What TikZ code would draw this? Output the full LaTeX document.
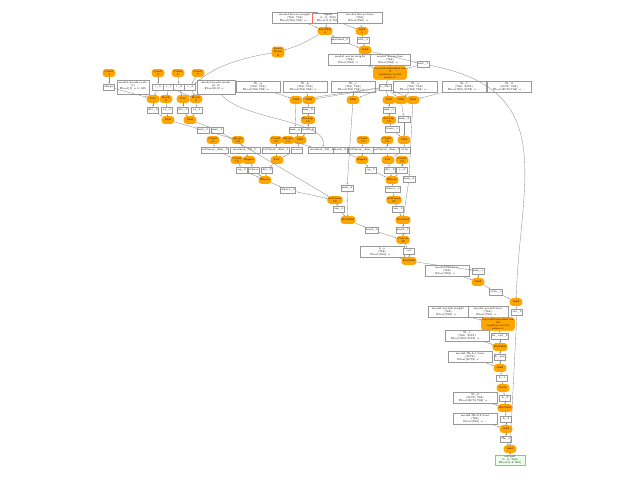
\documentclass[tikz,border=0pt]{standalone}
\usetikzlibrary{arrows.meta}
\definecolor{opc}{RGB}{255,165,0}
\begin{document}
\begin{tikzpicture}[x=0.75pt,y=-0.75pt,
 every node/.style={font=\fontsize{2}{2.4}\selectfont,inner sep=0.6pt,align=center},
 opn/.style={fill=opc,draw=opc,rounded corners=2pt,minimum width=12pt*0.75,minimum height=7pt*0.75},
 bx/.style={draw=black!40,fill=white,minimum width=11pt*0.75,minimum height=6pt*0.75},
 wb/.style={bx,minimum width=44pt*0.75,minimum height=9pt*0.75},
 ed/.style={draw=black!45,line width=0.25pt,-{Stealth[length=1.2pt,width=1pt]}}]
\useasboundingbox (0,0) rectangle (640,480);
% top
\node[bx,minimum width=45pt*0.75] (t1) at (295,18) {model.linear.weight\\(768, 768)\\Float[768,768] = ..};
\node[bx,draw=red!60,minimum width=32pt*0.75] (t2) at (328,18) {input\\(1, 8, 768)\\Float[1,8,768]};
\node[bx,minimum width=45pt*0.75] (t3) at (360,18) {model.linear.bias\\(768)\\Float[768] = ..};
\node[opn] (o1) at (325,31) {MatMul\\0};
\node[opn] (o2) at (362,31) {Add\\1};
\node[bx] (b1) at (340,40) {matmul\_0};
\node[bx] (b2) at (363,40) {add\_0};
\node[opn] (o3) at (365,50) {Add};
\node[opn,minimum height=10pt*0.75] (o4) at (278,52) {Layer\\Norm\\2};
\node[wb] (b3) at (350,60) {model.norm.weight\\(768)\\Float[768] = .. };
\node[wb,minimum width=40pt*0.75] (b4) at (390,60) {model.norm.bias\\(768)\\Float[768] = ..};
\node[bx] (b5) at (423,64) {add\_1};
\node[opn,minimum width=28pt*0.75,minimum height=13pt*0.75] (o5) at (390,73) {LayerNormalization\\3\\epsilon=1e-05\\axis=-1};
\node[bx] (xf) at (385,87) {x\_flat};
% wide row
\node[wb] (w1) at (258,87) {W\_q\\(768, 768)\\Float[768,768] = ..};
\node[wb] (w2) at (305,87) {W\_k\\(768, 768)\\Float[768,768] = ..};
\node[wb] (w3) at (353,87) {W\_v\\(768, 768)\\Float[768,768] = ..};
\node[wb] (w4) at (415,87) {W\_o\\(768, 768)\\Float[768,768] = ..};
\node[wb] (w5) at (464,87) {W\_1\\(768, 3072)\\Float[768,3072] = ..};
\node[wb] (w6) at (509,87) {W\_2\\(3072, 768)\\Float[3072,768] = ..};
% left cluster
\node[opn] (l1) at (109,73) {Const\\4};
\node[opn] (l2) at (158,73) {Const\\5};
\node[opn] (l3) at (178,73) {Const\\6};
\node[opn] (l4) at (198,73) {Const\\7};
\node[bx] (lb1) at (109,87) {shape};
\node[bx,minimum width=32pt*0.75,minimum height=14pt*0.75] (lb2) at (133,87) {model.heads.scale\\(1)\\Float[1] = 0.125\\..};
\node[bx] (lb3) at (158,87) {c\_0};
\node[bx] (lb4) at (169,87) {c\_1};
\node[bx] (lb5) at (179,87) {c\_2};
\node[bx] (lb6) at (190,87) {c\_3};
\node[bx,minimum width=38pt*0.75,minimum height=14pt*0.75] (lb7) at (216,87) {model.heads.mask\\(8, 8)\\Float[8,8] = ..\\..};
\node[opn] (m1) at (153,99) {Div};
\node[opn] (m2) at (166,99) {Resh\\8};
\node[opn] (m3) at (183,99) {Div};
\node[opn] (m4) at (196,99) {Resh\\9};
\node[bx] (mb1) at (153,110) {div\_0};
\node[bx] (mb2) at (167,110) {rs\_0};
\node[bx] (mb3) at (183,110) {div\_1};
\node[bx] (mb4) at (197,110) {rs\_1};
\node[opn] (n1) at (168,120) {Mul};
\node[opn] (n2) at (190,120) {Mul};
\node[bx] (nb1) at (203,130) {mul\_0};
\node[bx] (nb2) at (217,130) {mul\_1};
% q k v branches
\node[opn] (q1) at (296,100) {MM};
\node[opn] (q2) at (309,100) {MM};
\node[bx] (qb2) at (308,110) {mm\_k};
\node[opn] (q3) at (308,120) {Transp.\\10};
\node[bx] (qb1) at (295,130) {mm\_q};
\node[bx] (qb3) at (308,130) {trans\_k};
\node[opn] (r1) at (213,140) {Const\\11};
\node[opn] (r2) at (238,140) {Shape\\12};
\node[opn] (r3) at (276,140) {Const\\13};
\node[opn] (r4) at (288,140) {Shape\\14};
\node[opn] (r5) at (300,140) {MM};
\node[bx,minimum width=24pt*0.75] (rb1) at (215,150) {softmax\_dim\_0};
\node[bx,minimum width=30pt*0.75] (rb2) at (245,150) {masked\_fill\_0};
\node[bx,minimum width=24pt*0.75] (rb3) at (276,150) {softmax\_dim\_1};
\node[bx] (rb4) at (297,150) {scores};
\node[bx,minimum width=28pt*0.75] (rb5) at (322,150) {masked\_fill\_1};
\node[opn] (s1) at (237,160) {Const\\15};
\node[opn] (s2) at (249,160) {Equal};
\node[opn] (s3) at (277,160) {Div};
\node[bx] (sb1) at (242,170) {eq\_0};
\node[bx] (sb2) at (254,170) {where};
\node[bx] (sb3) at (267,170) {div\_2};
\node[opn] (u1) at (265,180) {Where};
\node[bx] (ub1) at (288,190) {where\_0};
% v and o branches
\node[opn] (v1) at (353,100) {MM};
\node[opn] (v2) at (389,100) {MM};
\node[opn] (v3) at (401,100) {MM};
\node[opn] (v4) at (413,100) {MM};
\node[bx] (vb2) at (389,110) {mm\_v};
\node[opn] (v5) at (389,120) {Transp.\\16};
\node[bx] (vb3) at (404,119) {mm\_2};
\node[bx] (vb5) at (392,129) {trans\_v};
\node[opn] (x1) at (363,140) {Const\\17};
\node[opn] (x2) at (387,140) {Const\\18};
\node[opn] (x3) at (404,140) {MM};
\node[bx] (xb0) at (340,150) {mask\_2};
\node[bx,minimum width=24pt*0.75] (xb1) at (362,150) {softmax\_dim\_2};
\node[bx,minimum width=24pt*0.75] (xb2) at (387,150) {softmax\_dim\_3};
\node[bx] (xb3) at (405,150) {attn};
\node[opn] (y1) at (362,160) {Equal};
\node[opn] (y2) at (388,160) {Div};
\node[opn] (y3) at (402,160) {Const\\19};
\node[bx] (yb1) at (371,170) {eq\_1};
\node[bx] (yb2) at (390,170) {div\_3};
\node[bx] (yb3) at (402,170) {c\_4};
\node[opn] (z1) at (392,180) {Where};
\node[bx] (zb4) at (409,179) {mm\_3};
\node[bx] (zb1) at (347,188) {mm\_4};
\node[bx] (zb2) at (393,189) {where\_1};
% merge
\node[opn] (a1) at (335,200) {Softmax\\20};
\node[opn] (a2) at (394,200) {Softmax\\21};
\node[bx] (ab1) at (339,209) {sm\_0};
\node[bx] (ab2) at (398,209) {sm\_1};
\node[opn] (a3) at (348,220) {MatMul};
\node[opn] (a4) at (403,220) {MatMul};
\node[bx] (ab3) at (372,230) {head\_0};
\node[bx] (ab4) at (403,230) {head\_1};
\node[opn] (a5) at (403,240) {Concat\\22};
\node[wb] (ab5) at (382,252) {b\_o\\(768)\\Float[768] = ..};
\node[bx] (ab6) at (409,251) {cat};
\node[opn] (a6) at (409,261) {MatMul};
\node[wb] (ab7) at (447,271) {model.out.bias\\(768)\\Float[768] = ..};
\node[bx] (ab8) at (478,271) {mm\_o};
\node[opn] (a7) at (478,282) {Add};
\node[bx] (ab9) at (496,292) {attn\_o};
\node[opn] (a8) at (516,302) {Add};
% bottom
\node[bx] (c0) at (517,312) {res\_1};
\node[wb,minimum width=40pt*0.75] (c1) at (448,312) {model.norm2.weight\\(768)\\Float[768] = ..};
\node[wb,minimum width=40pt*0.75] (c2) at (488,312) {model.norm2.bias\\(768)\\Float[768] = ..};
\node[opn,minimum width=28pt*0.75,minimum height=13pt*0.75] (c3) at (498,324) {LayerNormalization\\23\\epsilon=1e-05\\axis=-1};
\node[bx] (c4) at (500,336) {ln\_out\_2};
\node[wb] (c5) at (467,336) {W\_1\\(768, 3072)\\Float[768,3072] = ..};
\node[opn] (c6) at (500,347) {MatMul};
\node[bx] (c7) at (500,357) {h\_pre};
\node[wb] (c8) at (470,357) {model.ffn.fc1.bias\\(3072)\\Float[3072] = ..};
\node[opn] (c9) at (500,368) {Add};
\node[bx] (c10) at (502,378) {h\_1};
\node[opn] (c11) at (503,388) {Relu};
\node[bx] (c12) at (505,398) {h\_2};
\node[wb] (c13) at (475,398) {W\_2\\(3072, 768)\\Float[3072,768] = ..};
\node[opn] (c14) at (505,408) {MatMul};
\node[bx] (c15) at (506,419) {h\_3};
\node[wb] (c16) at (475,419) {model.ffn.fc2.bias\\(768)\\Float[768] = ..};
\node[opn] (c17) at (506,429) {Add};
\node[bx] (c18) at (506,439) {ffn\_o};
\node[opn] (c19) at (510,449) {Add};
\node[bx,draw=green!60!black!50,fill=green!8,minimum width=30pt*0.75,minimum height=9pt*0.75] (c20) at (510,460) {output\\(1, 8, 768)\\Float[1,8,768]};
% edges
\foreach \a/\b in {t1/o1,t2/o1,t2/o2,t3/o2,o1/b1,o2/b2,b1/o3,b2/o3,b3/o5,b4/o5,b5/o5,o5/xf,
 l1/lb1,l2/lb3,l3/lb5,l4/lb6,lb1/m1,lb2/m1,lb3/m1,lb4/m2,lb5/m3,lb6/m4,lb7/m3,lb4/m4,
 m1/mb1,m2/mb2,m3/mb3,m4/mb4,mb1/n1,mb2/n1,mb3/n2,mb4/n2,n1/nb1,n2/nb2,
 w1/q1,w2/q2,xf/q1,xf/q2,q2/qb2,qb2/q3,q3/qb3,q1/qb1,qb1/r5,qb3/r5,r5/rb4,
 r1/rb1,r2/rb2,r3/rb3,r4/rb5,rb1/s1,rb2/s2,rb3/s3,rb4/s3,s1/sb1,s2/sb2,s3/sb3,sb1/u1,sb2/u1,sb3/u1,u1/ub1,
 w3/v1,w4/v3,w5/v4,xf/v1,xf/v2,xf/v3,xf/v4,v2/vb2,vb2/v5,v5/vb5,v3/vb3,vb3/x3,vb5/x3,x3/xb3,
 x1/xb1,x2/xb2,xb1/y1,xb2/y2,xb3/y2,y1/yb1,y2/yb2,y3/yb3,yb1/z1,yb2/z1,yb3/z1,z1/zb2,v1/zb1,v4/zb4,
 ub1/a1,nb2/a1,zb2/a2,a1/ab1,a2/ab2,ab1/a3,zb1/a3,ab2/a4,zb4/a4,a3/ab3,a4/ab4,ab3/a5,ab4/a5,a5/ab6,ab6/a6,ab5/a6,
 a6/ab8,ab7/a7,ab8/a7,a7/ab9,ab9/a8,a8/c0,c1/c3,c2/c3,c3/c4,c4/c6,c5/c6,c6/c7,c7/c9,c8/c9,c9/c10,c10/c11,c11/c12,
 c12/c14,c13/c14,c14/c15,c15/c17,c16/c17,c17/c18,c18/c19,c0/c19,c19/c20,xb0/y1,nb1/r2,lb7/m4}
 \draw[ed] (\a) -- (\b);
\draw[ed] (o1) .. controls (300,45) .. (o4);
\draw[ed] (o4) .. controls (215,62) and (200,80) .. (lb6);
\draw[ed] (o3) -- (b5);
\draw[ed] (o3) -- (b3);
\draw[ed] (b5) .. controls (560,90) and (520,180) .. (a8);
\draw[ed] (lb7) .. controls (240,120) and (330,120) .. (rb5);
\end{tikzpicture}
\end{document}
